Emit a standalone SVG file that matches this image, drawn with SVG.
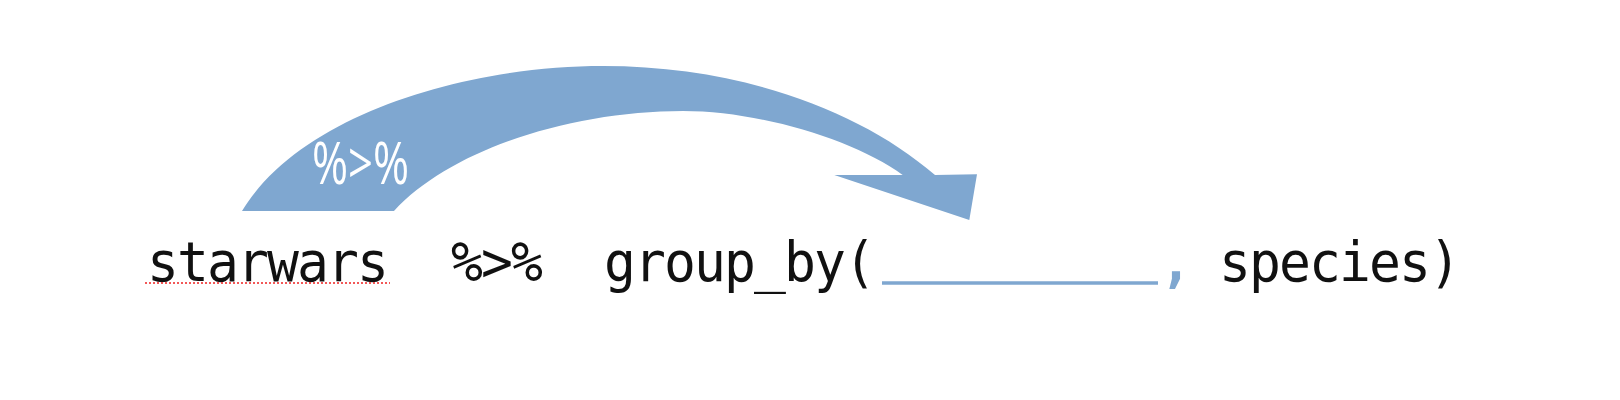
<svg xmlns="http://www.w3.org/2000/svg" width="1620" height="400" viewBox="0 0 1620 400">
  <style>
    .code { font-family: "DejaVu Sans Mono", "Liberation Mono", monospace; font-size: 53px; fill: #111; letter-spacing: -1.9px; }
    .blue { fill: #7FA7D0; }
    .label { font-family: "Open Sans", "Liberation Sans", Arial, sans-serif; font-size: 58px; fill: #fff; }
  </style>
  <rect width="1620" height="400" fill="#fff"/>
  <g id="connectors">
    <path id="pipe-arrow" class="blue" d="M242,211 C300,115 465,66 603,66 C740,66 860,110 935,175 L977,174.3 L969.3,220 L834.3,175 L902.7,175 C855,140 760,111 683,111 C570,111 450,150 394,211 Z"/>
    <text class="label" x="312" y="184" textLength="97" lengthAdjust="spacingAndGlyphs">%&gt;%</text>
  </g>
  <g transform="translate(0,281) scale(1,1.03) translate(0,-281)">
    <g id="starwars">
      <text class="code" x="147" y="281">starwars</text>
    </g>
    <g id="pipe">
      <text class="code" x="451" y="281">%&gt;%</text>
    </g>
    <g id="group_by">
      <text class="code" x="604" y="281">group_by(</text>
    </g>
    <g id="comma">
      <text class="code blue" x="1160" y="281" style="font-weight:bold">,</text>
    </g>
    <g id="species">
      <text class="code" x="1219" y="281">species)</text>
    </g>
  </g>
  <line x1="145" y1="283" x2="390" y2="283" stroke="#e22" stroke-width="1.5" stroke-dasharray="2,2"/>
  <line id="blank" x1="882" y1="283" x2="1158" y2="283" stroke="#7FA7D0" stroke-width="3.5"/>
</svg>
